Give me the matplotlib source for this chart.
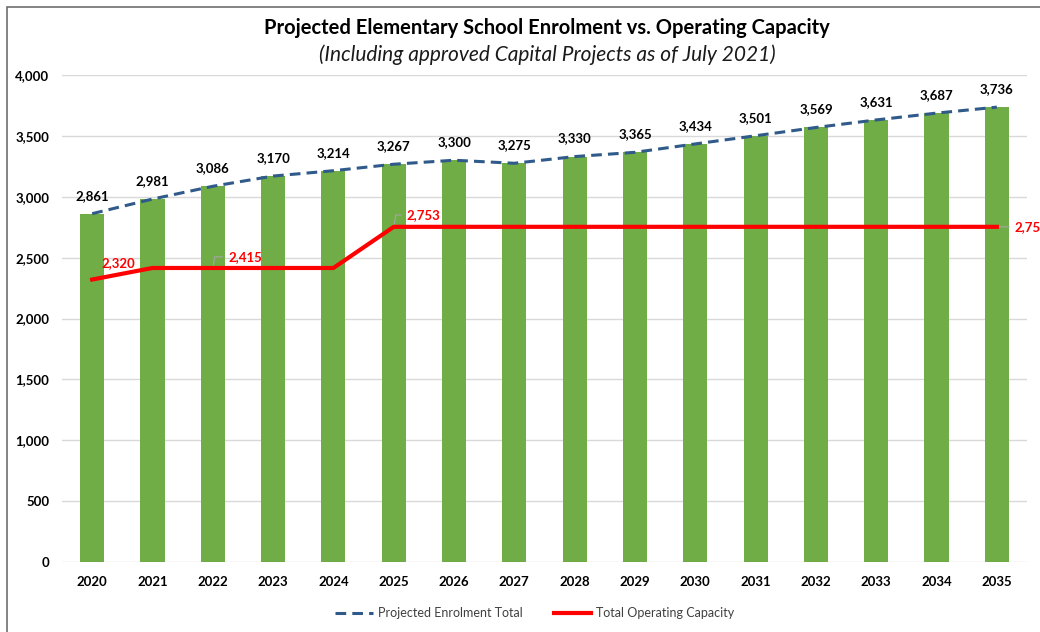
import matplotlib
matplotlib.use("Agg")
import matplotlib.pyplot as plt
from matplotlib.patches import Rectangle
from matplotlib.ticker import FuncFormatter

plt.rcParams['font.family'] = ['Lato', 'DejaVu Sans']

years = ['2020', '2021', '2022', '2023', '2024', '2025', '2026', '2027',
         '2028', '2029', '2030', '2031', '2032', '2033', '2034', '2035']
enrolment = [2861, 2981, 3086, 3170, 3214, 3267, 3300, 3275,
             3330, 3365, 3434, 3501, 3569, 3631, 3687, 3736]
capacity = [2320, 2415, 2415, 2415, 2415, 2753, 2753, 2753,
            2753, 2753, 2753, 2753, 2753, 2753, 2753, 2753]
yticks = [0, 500, 1000, 1500, 2000, 2500, 3000, 3500, 4000]

title = 'Projected Elementary School Enrolment vs. Operating Capacity'
subtitle = '(Including approved Capital Projects as of July 2021)'
legend_labels = ['Projected Enrolment Total', 'Total Operating Capacity']

W, H = 1040, 632
fig = plt.figure(figsize=(W / 100, H / 100), dpi=100)
ax = fig.add_axes([62 / W, 1 - 562 / H, (1027 - 62) / W, (562 - 75) / H])

x = list(range(len(years)))
ax.bar(x, enrolment, width=0.4, color='#70AD47', zorder=2)
l1, = ax.plot(x, enrolment, ls=(0, (3.5, 2)), color='#2F5A8A', lw=2.2, zorder=3)
l2, = ax.plot(x, capacity, color='#FF0000', lw=3, zorder=4)

ax.set_xlim(-0.5, len(years) - 0.5)
ax.set_ylim(0, 4000)
ax.set_yticks(yticks)
ax.yaxis.set_major_formatter(FuncFormatter(lambda v, p: f'{int(v):,}'))
ax.set_xticks(x)
ax.set_xticklabels(years)
ax.grid(axis='y', color='#D9D9D9', lw=1, zorder=0)
ax.set_axisbelow(True)
for s in ax.spines.values():
    s.set_visible(False)
ax.tick_params(length=0, labelsize=9.5)
for lab in ax.get_xticklabels() + ax.get_yticklabels():
    lab.set_fontweight('bold')
ax.tick_params(axis='y', pad=9)
ax.tick_params(axis='x', pad=10)

for xi, v in zip(x, enrolment):
    ax.annotate(f'{v:,}', (xi, v), xytext=(0, 13), textcoords='offset points',
                ha='center', va='center', fontsize=9.5, fontweight='bold', color='black')

# capacity labels
ax.annotate(f'{capacity[0]:,}', (0, capacity[0]), xytext=(7, 11.5), textcoords='offset points',
            ha='left', va='center', fontsize=9.5, fontweight='bold', color='#FF0000')
for idx, offs in [(2, (11, 8)), (5, (9.5, 8.5))]:
    v = capacity[idx]
    ax.annotate(f'{v:,}', (idx, v), xytext=offs, textcoords='offset points',
                ha='left', va='center', fontsize=9.5, fontweight='bold', color='#FF0000',
                arrowprops=dict(arrowstyle='-', color='#A6A6A6', lw=0.8,
                                connectionstyle='angle,angleA=0,angleB=80,rad=0',
                                shrinkA=2, shrinkB=0))
last = len(years) - 1
ax.annotate(f'{capacity[last]:,}', (last, capacity[last]), xytext=(13, 0), textcoords='offset points',
            ha='left', va='center', fontsize=9.5, fontweight='bold', color='#FF0000',
            annotation_clip=False,
            arrowprops=dict(arrowstyle='-', color='#A6A6A6', lw=0.8, shrinkA=2, shrinkB=0))

fig.text(547 / W, 1 - 28 / H, title, ha='center', va='center', fontsize=14.5, fontweight='bold')
fig.text(547 / W, 1 - 55 / H, subtitle, ha='center', va='center', fontsize=15,
         style='italic', color='#1A1A1A')

leg = fig.legend([l1, l2], legend_labels, loc='center', bbox_to_anchor=(535 / W, 1 - 613 / H),
                 ncol=2, frameon=False, fontsize=9, handlelength=3, columnspacing=2.5,
                 handletextpad=0.4)
for t in leg.get_texts():
    t.set_color('#404040')

fig.add_artist(Rectangle((7 / W, -0.1), 1.2, 1 - 7 / H + 0.1, transform=fig.transFigure,
                         fill=False, ec='#6E6E6E', lw=1.2))

fig.savefig('out.png', dpi=100, facecolor='white')
